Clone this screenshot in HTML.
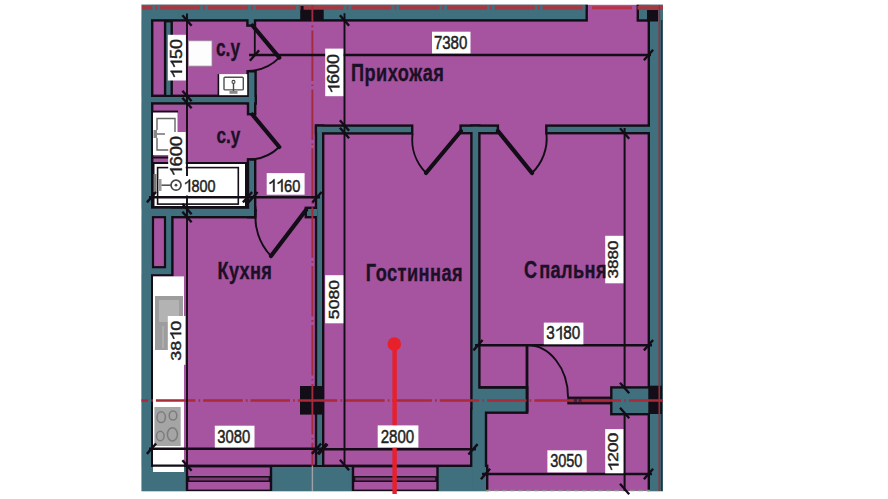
<!DOCTYPE html><html><head><meta charset="utf-8"><style>html,body{margin:0;padding:0;width:888px;height:499px;overflow:hidden;background:#fff}svg{display:block}</style></head><body><svg width="888" height="499" viewBox="0 0 888 499">
<defs><path id="one" d="M0.36 0 L0.455 0 L0.455 -0.716 L0.395 -0.716 C0.34 -0.63 0.23 -0.56 0.12 -0.525 L0.12 -0.44 C0.21 -0.47 0.30 -0.52 0.36 -0.575 Z"/></defs>
<rect x="0" y="0" width="888" height="499" fill="#ffffff" />
<rect x="141.5" y="4.5" width="521.5" height="486.5" fill="#a653a0" />
<rect x="141.5" y="4.5" width="444.0" height="14.7" fill="none" stroke="#120d16" stroke-width="4.8"/>
<rect x="639" y="4.5" width="24" height="14.8" fill="none" stroke="#120d16" stroke-width="4.8"/>
<rect x="141.5" y="4.5" width="9.5" height="486.5" fill="none" stroke="#120d16" stroke-width="4.8"/>
<rect x="650" y="4.5" width="13" height="486.5" fill="none" stroke="#120d16" stroke-width="4.8"/>
<rect x="141.5" y="467" width="344.5" height="24" fill="none" stroke="#120d16" stroke-width="4.8"/>
<rect x="166.3" y="22.4" width="4.2" height="72.5" fill="none" stroke="#120d16" stroke-width="4.8"/>
<rect x="141.5" y="97" width="112.9" height="5.2" fill="none" stroke="#120d16" stroke-width="4.8"/>
<rect x="248.6" y="19" width="5.2" height="5.4" fill="none" stroke="#120d16" stroke-width="4.8"/>
<rect x="248.8" y="72.5" width="5.6" height="29.7" fill="none" stroke="#120d16" stroke-width="4.8"/>
<rect x="249.2" y="102" width="4.8" height="11" fill="none" stroke="#120d16" stroke-width="4.8"/>
<rect x="249.2" y="160.5" width="4.8" height="55.5" fill="none" stroke="#120d16" stroke-width="4.8"/>
<rect x="141.5" y="208.8" width="112.5" height="7.2" fill="none" stroke="#120d16" stroke-width="4.8"/>
<rect x="141.5" y="208.8" width="29.7" height="65.4" fill="none" stroke="#120d16" stroke-width="4.8"/>
<rect x="307" y="209" width="10" height="7" fill="none" stroke="#120d16" stroke-width="4.8"/>
<rect x="317.2" y="126.8" width="4.8" height="338.2" fill="none" stroke="#120d16" stroke-width="4.8"/>
<rect x="317.2" y="126.8" width="93.8" height="5.4" fill="none" stroke="#120d16" stroke-width="4.8"/>
<rect x="461.8" y="126.8" width="34.9" height="5.2" fill="none" stroke="#120d16" stroke-width="4.8"/>
<rect x="472.6" y="126.8" width="5.6" height="364.2" fill="none" stroke="#120d16" stroke-width="4.8"/>
<rect x="472.6" y="410" width="12.2" height="81" fill="none" stroke="#120d16" stroke-width="4.8"/>
<rect x="547.5" y="126.8" width="102.5" height="5.2" fill="none" stroke="#120d16" stroke-width="4.8"/>
<rect x="477" y="388.6" width="49" height="22.9" fill="none" stroke="#120d16" stroke-width="4.8"/>
<rect x="612.5" y="388.6" width="37.5" height="24.4" fill="none" stroke="#120d16" stroke-width="4.8"/>
<rect x="141.5" y="4.5" width="444.0" height="14.7" fill="#406f7e" />
<rect x="639" y="4.5" width="24" height="14.8" fill="#406f7e" />
<rect x="141.5" y="4.5" width="9.5" height="486.5" fill="#406f7e" />
<rect x="650" y="4.5" width="13" height="486.5" fill="#406f7e" />
<rect x="141.5" y="467" width="344.5" height="24" fill="#406f7e" />
<rect x="166.3" y="22.4" width="4.2" height="72.5" fill="#406f7e" />
<rect x="141.5" y="97" width="112.9" height="5.2" fill="#406f7e" />
<rect x="248.6" y="19" width="5.2" height="5.4" fill="#406f7e" />
<rect x="248.8" y="72.5" width="5.6" height="29.7" fill="#406f7e" />
<rect x="249.2" y="102" width="4.8" height="11" fill="#406f7e" />
<rect x="249.2" y="160.5" width="4.8" height="55.5" fill="#406f7e" />
<rect x="141.5" y="208.8" width="112.5" height="7.2" fill="#406f7e" />
<rect x="141.5" y="208.8" width="29.7" height="65.4" fill="#406f7e" />
<rect x="307" y="209" width="10" height="7" fill="#406f7e" />
<rect x="317.2" y="126.8" width="4.8" height="338.2" fill="#406f7e" />
<rect x="317.2" y="126.8" width="93.8" height="5.4" fill="#406f7e" />
<rect x="461.8" y="126.8" width="34.9" height="5.2" fill="#406f7e" />
<rect x="472.6" y="126.8" width="5.6" height="364.2" fill="#406f7e" />
<rect x="472.6" y="410" width="12.2" height="81" fill="#406f7e" />
<rect x="547.5" y="126.8" width="102.5" height="5.2" fill="#406f7e" />
<rect x="477" y="388.6" width="49" height="22.9" fill="#406f7e" />
<rect x="612.5" y="388.6" width="37.5" height="24.4" fill="#406f7e" />
<rect x="153" y="217.2" width="12" height="50" fill="#a653a0" stroke="#120d16" stroke-width="2.2"/>
<rect x="187" y="466.2" width="84" height="24.6" fill="#a653a0" stroke="#120d16" stroke-width="2.4"/>
<rect x="188.5" y="476.8" width="81" height="4.4" fill="#7a3a74" stroke="#120d16" stroke-width="1.5"/>
<rect x="353" y="466.2" width="84.5" height="24.6" fill="#a653a0" stroke="#120d16" stroke-width="2.4"/>
<rect x="354.5" y="476.8" width="81.5" height="4.4" fill="#7a3a74" stroke="#120d16" stroke-width="1.5"/>
<rect x="0" y="0" width="141.5" height="499" fill="#fff" />
<rect x="663" y="0" width="225" height="499" fill="#fff" />
<rect x="0" y="0" width="888" height="4.6" fill="#fff" />
<rect x="0" y="491.2" width="888" height="7.8" fill="#fff" />
<line x1="661.6" y1="20" x2="661.6" y2="491" stroke="#263238" stroke-width="1.5" />
<rect x="300.2" y="6" width="23.5" height="15" fill="#120d16" />
<rect x="647" y="10" width="11" height="11.5" fill="#120d16" />
<rect x="300" y="386" width="23.8" height="28.6" fill="#120d16" />
<rect x="648.3" y="385.7" width="13.7" height="28.3" fill="#120d16" />
<rect x="188.3" y="40.8" width="23.7" height="25.3" fill="#fdfdfd" stroke="#9a8a9a" stroke-width="0.8"/>
<rect x="219" y="74.1" width="28.2" height="21.1" fill="#ffffff" />
<line x1="218.4" y1="74.1" x2="218.4" y2="96" stroke="#120d16" stroke-width="1.6" />
<rect x="224" y="77.3" width="19.3" height="12.6" rx="1" fill="none" stroke="#505050" stroke-width="1.4"/>
<circle cx="233.5" cy="81.9" r="1.5" fill="none" stroke="#444" stroke-width="1.1"/>
<line x1="233.5" y1="83.4" x2="233.5" y2="93" stroke="#444" stroke-width="1.4" />
<rect x="229.5" y="91" width="8.0" height="2.8" fill="#8a8a8a" />
<line x1="152" y1="111.6" x2="178" y2="111.6" stroke="#120d16" stroke-width="2" />
<rect x="153" y="112.6" width="24.5" height="42.4" fill="#ffffff" />
<path d="M157 130 V118.5 H175 V150 H157 V138" fill="none" stroke="#666" stroke-width="1.4"/>
<rect x="153.5" y="130" width="3.5" height="8" fill="#888" />
<line x1="157" y1="134" x2="165" y2="134" stroke="#666" stroke-width="1.4" />
<line x1="152" y1="157.5" x2="178" y2="157.5" stroke="#120d16" stroke-width="2" />
<rect x="153.5" y="163" width="92.5" height="44" fill="#ffffff" stroke="#120d16" stroke-width="2"/>
<rect x="157.6" y="167.6" width="80.7" height="36.5" fill="none" stroke="#120d16" stroke-width="1.6"/>
<rect x="153.5" y="174" width="3.0" height="18" fill="#7a7a7a" />
<rect x="159" y="179" width="2.5" height="12" fill="#9a9a9a" />
<line x1="161.5" y1="185.2" x2="170.8" y2="185.2" stroke="#555" stroke-width="1.6" />
<circle cx="176" cy="185.2" r="5" fill="none" stroke="#444" stroke-width="1.7"/>
<circle cx="176" cy="185.2" r="1.4" fill="#444"/>
<rect x="153" y="276.4" width="31" height="195.6" fill="#ffffff" />
<rect x="155" y="296" width="28" height="54" fill="#9d9d9d" />
<rect x="159" y="300" width="20" height="22" fill="#b3b3b3" />
<line x1="163" y1="326" x2="163" y2="348" stroke="#bdbdbd" stroke-width="1" />
<line x1="175" y1="326" x2="175" y2="348" stroke="#bdbdbd" stroke-width="1" />
<rect x="154.4" y="407" width="26.3" height="39" fill="#a5a5a5" />
<ellipse cx="161.2" cy="417.2" rx="4.2" ry="5.4" fill="none" stroke="#7c7c7c" stroke-width="1.5"/>
<ellipse cx="173" cy="415.5" rx="3.8" ry="4.6" fill="none" stroke="#7c7c7c" stroke-width="1.5"/>
<ellipse cx="160.3" cy="436" rx="3.8" ry="4.7" fill="none" stroke="#7c7c7c" stroke-width="1.5"/>
<ellipse cx="172.4" cy="434.4" rx="5" ry="6.6" fill="none" stroke="#7c7c7c" stroke-width="1.5"/>
<line x1="152" y1="275" x2="152" y2="466" stroke="#120d16" stroke-width="2" />
<line x1="151" y1="465.6" x2="186" y2="465.6" stroke="#120d16" stroke-width="2.2" />
<line x1="252.5" y1="25.5" x2="279.3" y2="57.6" stroke="#120d16" stroke-width="4.2" stroke-linecap="round"/>
<path d="M279.3 57.6 A45 45 0 0 1 248.5 71" fill="none" stroke="#120d16" stroke-width="1.9"/>
<line x1="254.8" y1="26" x2="254.8" y2="55" stroke="#120d16" stroke-width="1.8" />
<line x1="252.3" y1="114.5" x2="279.3" y2="147" stroke="#120d16" stroke-width="4.2" stroke-linecap="round"/>
<path d="M279.3 147 A45 45 0 0 1 250 159.6" fill="none" stroke="#120d16" stroke-width="1.9"/>
<line x1="306" y1="210" x2="271" y2="256" stroke="#120d16" stroke-width="4.2" stroke-linecap="round"/>
<path d="M256 209 A56 56 0 0 0 271 256" fill="none" stroke="#120d16" stroke-width="1.9"/>
<line x1="461" y1="131" x2="426" y2="173" stroke="#120d16" stroke-width="4.2" stroke-linecap="round"/>
<path d="M412.5 134 A48 48 0 0 0 426 173" fill="none" stroke="#120d16" stroke-width="1.9"/>
<line x1="498" y1="131" x2="532" y2="173" stroke="#120d16" stroke-width="4.2" stroke-linecap="round"/>
<path d="M546.5 134 A48 48 0 0 1 532 173" fill="none" stroke="#120d16" stroke-width="1.9"/>
<line x1="527" y1="344.5" x2="527" y2="412" stroke="#120d16" stroke-width="2.8" />
<line x1="479" y1="387.4" x2="527" y2="387.4" stroke="#120d16" stroke-width="2.2" />
<path d="M527 345 A41 52 0 0 1 568 397" fill="none" stroke="#120d16" stroke-width="1.9"/>
<rect x="568.3" y="397.6" width="42.5" height="5.8" fill="#4a1d3c" stroke="#120d16" stroke-width="2"/>
<line x1="142" y1="7.7" x2="586" y2="7.7" stroke="#a23a44" stroke-width="4" stroke-dasharray="40 3 1.8 3" stroke-dashoffset="29.6"/>
<line x1="637.5" y1="7.7" x2="663" y2="7.7" stroke="#a23a44" stroke-width="4"/>
<line x1="592" y1="7.8" x2="632" y2="7.8" stroke="#b53446" stroke-width="3"/>
<line x1="141.5" y1="400.4" x2="663" y2="400.4" stroke="#aa2a3a" stroke-width="2.5" stroke-dasharray="39.5 3.2 1.6 3" stroke-dashoffset="32.9"/>
<line x1="312.4" y1="5" x2="312.4" y2="466" stroke="#a42a3e" stroke-width="1.9" stroke-dasharray="50.5 3.5 1.6 3.3" stroke-dashoffset="33.4"/>
<line x1="312.4" y1="466" x2="312.4" y2="491" stroke="#a0a0a8" stroke-width="1.4" />
<line x1="659.3" y1="5" x2="659.3" y2="491" stroke="#93323f" stroke-width="1.7"/>
<line x1="486" y1="490.5" x2="650" y2="490.5" stroke="#8a8a8a" stroke-width="1.4" stroke-dasharray="5 3"/>
<line x1="249" y1="55" x2="651" y2="55" stroke="#120d16" stroke-width="2.4" />
<line x1="249.9" y1="60.7" x2="259.1" y2="50.3" stroke="#120d16" stroke-width="2.4" />
<line x1="643.9" y1="60.2" x2="653.1" y2="49.8" stroke="#120d16" stroke-width="2.4" />
<line x1="187" y1="13.5" x2="187" y2="176" stroke="#120d16" stroke-width="1.9" />
<line x1="187" y1="195.5" x2="187" y2="466" stroke="#120d16" stroke-width="1.9" />
<line x1="182.4" y1="15.3" x2="191.6" y2="25.7" stroke="#120d16" stroke-width="2.4" />
<line x1="182.4" y1="90.8" x2="191.6" y2="101.2" stroke="#120d16" stroke-width="2.4" />
<line x1="182.4" y1="97.8" x2="191.6" y2="108.2" stroke="#120d16" stroke-width="2.4" />
<line x1="182.4" y1="203.8" x2="191.6" y2="214.2" stroke="#120d16" stroke-width="2.4" />
<line x1="182.4" y1="211.8" x2="191.6" y2="222.2" stroke="#120d16" stroke-width="2.4" />
<line x1="182.4" y1="460.3" x2="191.6" y2="470.7" stroke="#120d16" stroke-width="2.4" />
<line x1="344.5" y1="13.3" x2="344.5" y2="466" stroke="#120d16" stroke-width="1.9" />
<line x1="339.9" y1="15.3" x2="349.1" y2="25.7" stroke="#120d16" stroke-width="2.4" />
<line x1="339.9" y1="120.3" x2="349.1" y2="130.7" stroke="#120d16" stroke-width="2.4" />
<line x1="339.9" y1="127.8" x2="349.1" y2="138.2" stroke="#120d16" stroke-width="2.4" />
<line x1="339.9" y1="459.8" x2="349.1" y2="470.2" stroke="#120d16" stroke-width="2.4" />
<line x1="149" y1="197.2" x2="320" y2="197.2" stroke="#120d16" stroke-width="2.4" />
<line x1="146.9" y1="202.39999999999998" x2="156.1" y2="192.0" stroke="#120d16" stroke-width="2.4" />
<line x1="242.9" y1="202.39999999999998" x2="252.1" y2="192.0" stroke="#120d16" stroke-width="2.4" />
<line x1="248.4" y1="202.39999999999998" x2="257.6" y2="192.0" stroke="#120d16" stroke-width="2.4" />
<line x1="312.4" y1="202.39999999999998" x2="321.6" y2="192.0" stroke="#120d16" stroke-width="2.4" />
<line x1="149" y1="448.7" x2="326" y2="448.7" stroke="#120d16" stroke-width="2.4" />
<line x1="146.9" y1="453.9" x2="156.1" y2="443.5" stroke="#120d16" stroke-width="2.4" />
<line x1="311.9" y1="453.9" x2="321.1" y2="443.5" stroke="#120d16" stroke-width="2.4" />
<line x1="317.4" y1="453.9" x2="326.6" y2="443.5" stroke="#120d16" stroke-width="2.4" />
<line x1="314" y1="449.3" x2="476" y2="449.3" stroke="#120d16" stroke-width="2.4" />
<line x1="318.4" y1="454.5" x2="327.6" y2="444.1" stroke="#120d16" stroke-width="2.4" />
<line x1="468.4" y1="454.5" x2="477.6" y2="444.1" stroke="#120d16" stroke-width="2.4" />
<line x1="624.6" y1="128" x2="624.6" y2="387" stroke="#120d16" stroke-width="2.0" />
<line x1="624.6" y1="414" x2="624.6" y2="491" stroke="#120d16" stroke-width="2.0" />
<line x1="620.0" y1="128.3" x2="629.2" y2="138.7" stroke="#120d16" stroke-width="2.4" />
<line x1="620.0" y1="382.8" x2="629.2" y2="393.2" stroke="#120d16" stroke-width="2.4" />
<line x1="620.0" y1="407.8" x2="629.2" y2="418.2" stroke="#120d16" stroke-width="2.4" />
<line x1="620.0" y1="483.8" x2="629.2" y2="494.2" stroke="#120d16" stroke-width="2.4" />
<line x1="475" y1="345.2" x2="652" y2="345.2" stroke="#120d16" stroke-width="2.4" />
<line x1="473.4" y1="350.4" x2="482.6" y2="340.0" stroke="#120d16" stroke-width="2.4" />
<line x1="643.9" y1="350.4" x2="653.1" y2="340.0" stroke="#120d16" stroke-width="2.4" />
<line x1="482" y1="474" x2="652" y2="474" stroke="#120d16" stroke-width="2.4" />
<line x1="480.9" y1="479.2" x2="490.1" y2="468.8" stroke="#120d16" stroke-width="2.4" />
<line x1="643.9" y1="479.2" x2="653.1" y2="468.8" stroke="#120d16" stroke-width="2.4" />
<line x1="394.6" y1="344" x2="394.6" y2="494" stroke="#e8202a" stroke-width="4.4" />
<circle cx="394.3" cy="344" r="6.8" fill="#e8202a"/>
<rect x="432" y="31.7" width="38.5" height="21.7" fill="#ffffff" />
<g transform="translate(433.88 48.86) scale(0.8167 1)"><text x="0.0" y="0" font-family="Liberation Sans" font-size="18.417266187050366" fill="#1e1e22" stroke="#1e1e22" stroke-width="0.5">7</text><text x="10.24" y="0" font-family="Liberation Sans" font-size="18.417266187050366" fill="#1e1e22" stroke="#1e1e22" stroke-width="0.5">3</text><text x="20.48" y="0" font-family="Liberation Sans" font-size="18.417266187050366" fill="#1e1e22" stroke="#1e1e22" stroke-width="0.5">8</text><text x="30.72" y="0" font-family="Liberation Sans" font-size="18.417266187050366" fill="#1e1e22" stroke="#1e1e22" stroke-width="0.5">0</text></g>
<rect x="266.7" y="173.1" width="37.9" height="21.6" fill="#ffffff" />
<g transform="translate(267.9 191.66) scale(0.8372 1)"><use href="#one" transform="translate(0.0 0) scale(17.410071942446038)" fill="#1e1e22" stroke="#1e1e22" stroke-width="0.0287"/><use href="#one" transform="translate(9.68 0) scale(17.410071942446038)" fill="#1e1e22" stroke="#1e1e22" stroke-width="0.0287"/><text x="19.36" y="0" font-family="Liberation Sans" font-size="17.410071942446038" fill="#1e1e22" stroke="#1e1e22" stroke-width="0.5">6</text><text x="29.04" y="0" font-family="Liberation Sans" font-size="17.410071942446038" fill="#1e1e22" stroke="#1e1e22" stroke-width="0.5">0</text></g>
<rect x="214.8" y="425.7" width="39.7" height="21.8" fill="#ffffff" />
<g transform="translate(217.29 442.96) scale(0.8235 1)"><text x="0.0" y="0" font-family="Liberation Sans" font-size="17.98561151079137" fill="#1e1e22" stroke="#1e1e22" stroke-width="0.5">3</text><text x="10.0" y="0" font-family="Liberation Sans" font-size="17.98561151079137" fill="#1e1e22" stroke="#1e1e22" stroke-width="0.5">0</text><text x="20.0" y="0" font-family="Liberation Sans" font-size="17.98561151079137" fill="#1e1e22" stroke="#1e1e22" stroke-width="0.5">8</text><text x="30.0" y="0" font-family="Liberation Sans" font-size="17.98561151079137" fill="#1e1e22" stroke="#1e1e22" stroke-width="0.5">0</text></g>
<rect x="377.7" y="425.4" width="40.7" height="22.1" fill="#ffffff" />
<g transform="translate(380.7 442.96) scale(0.8189 1)"><text x="0.0" y="0" font-family="Liberation Sans" font-size="18.417266187050377" fill="#1e1e22" stroke="#1e1e22" stroke-width="0.5">2</text><text x="10.24" y="0" font-family="Liberation Sans" font-size="18.417266187050377" fill="#1e1e22" stroke="#1e1e22" stroke-width="0.5">8</text><text x="20.48" y="0" font-family="Liberation Sans" font-size="18.417266187050377" fill="#1e1e22" stroke="#1e1e22" stroke-width="0.5">0</text><text x="30.72" y="0" font-family="Liberation Sans" font-size="18.417266187050377" fill="#1e1e22" stroke="#1e1e22" stroke-width="0.5">0</text></g>
<rect x="543.8" y="322.6" width="39.6" height="21.7" fill="#ffffff" />
<g transform="translate(546.27 339.46) scale(0.8231 1)"><text x="0.0" y="0" font-family="Liberation Sans" font-size="18.561151079136742" fill="#1e1e22" stroke="#1e1e22" stroke-width="0.5">3</text><use href="#one" transform="translate(10.32 0) scale(18.561151079136742)" fill="#1e1e22" stroke="#1e1e22" stroke-width="0.0269"/><text x="20.64" y="0" font-family="Liberation Sans" font-size="18.561151079136742" fill="#1e1e22" stroke="#1e1e22" stroke-width="0.5">8</text><text x="30.96" y="0" font-family="Liberation Sans" font-size="18.561151079136742" fill="#1e1e22" stroke="#1e1e22" stroke-width="0.5">0</text></g>
<rect x="547.4" y="450.3" width="39.3" height="22.1" fill="#ffffff" />
<g transform="translate(550.2 467.46) scale(0.7865 1)"><text x="0.0" y="0" font-family="Liberation Sans" font-size="18.417266187050377" fill="#1e1e22" stroke="#1e1e22" stroke-width="0.5">3</text><text x="10.24" y="0" font-family="Liberation Sans" font-size="18.417266187050377" fill="#1e1e22" stroke="#1e1e22" stroke-width="0.5">0</text><text x="20.48" y="0" font-family="Liberation Sans" font-size="18.417266187050377" fill="#1e1e22" stroke="#1e1e22" stroke-width="0.5">5</text><text x="30.72" y="0" font-family="Liberation Sans" font-size="18.417266187050377" fill="#1e1e22" stroke="#1e1e22" stroke-width="0.5">0</text></g>
<g transform="translate(183.52 191.86) scale(0.8261 1)"><use href="#one" transform="translate(0.0 0) scale(17.410071942446038)" fill="#1e1e22" stroke="#1e1e22" stroke-width="0.0287"/><text x="9.68" y="0" font-family="Liberation Sans" font-size="17.410071942446038" fill="#1e1e22" stroke="#1e1e22" stroke-width="0.5">8</text><text x="19.36" y="0" font-family="Liberation Sans" font-size="17.410071942446038" fill="#1e1e22" stroke="#1e1e22" stroke-width="0.5">0</text><text x="29.04" y="0" font-family="Liberation Sans" font-size="17.410071942446038" fill="#1e1e22" stroke="#1e1e22" stroke-width="0.5">0</text></g>
<rect x="167.8" y="34.8" width="18.1" height="45.7" fill="#ffffff" />
<g transform="translate(181.97 78.89) rotate(-90) scale(1 0.8857)"><use href="#one" transform="translate(0.0 0) scale(17.869249394673123)" fill="#1e1e22" stroke="#1e1e22" stroke-width="0.028"/><use href="#one" transform="translate(9.94 0) scale(17.869249394673123)" fill="#1e1e22" stroke="#1e1e22" stroke-width="0.028"/><text x="19.87" y="0" font-family="Liberation Sans" font-size="17.869249394673123" fill="#1e1e22" stroke="#1e1e22" stroke-width="0.5">5</text><text x="29.81" y="0" font-family="Liberation Sans" font-size="17.869249394673123" fill="#1e1e22" stroke="#1e1e22" stroke-width="0.5">0</text></g>
<rect x="325.2" y="48.6" width="18.1" height="47.6" fill="#ffffff" />
<g transform="translate(339.37 93.89) rotate(-90) scale(1 0.8857)"><use href="#one" transform="translate(0.0 0) scale(17.869249394673123)" fill="#1e1e22" stroke="#1e1e22" stroke-width="0.028"/><text x="9.94" y="0" font-family="Liberation Sans" font-size="17.869249394673123" fill="#1e1e22" stroke="#1e1e22" stroke-width="0.5">6</text><text x="19.87" y="0" font-family="Liberation Sans" font-size="17.869249394673123" fill="#1e1e22" stroke="#1e1e22" stroke-width="0.5">0</text><text x="29.81" y="0" font-family="Liberation Sans" font-size="17.869249394673123" fill="#1e1e22" stroke="#1e1e22" stroke-width="0.5">0</text></g>
<rect x="168.2" y="132" width="17.5" height="44" fill="#ffffff" />
<g transform="translate(181.87 176.75) rotate(-90) scale(1 0.9016)"><use href="#one" transform="translate(0.0 0) scale(18.35351089588378)" fill="#1e1e22" stroke="#1e1e22" stroke-width="0.0272"/><text x="10.2" y="0" font-family="Liberation Sans" font-size="18.35351089588378" fill="#1e1e22" stroke="#1e1e22" stroke-width="0.5">6</text><text x="20.41" y="0" font-family="Liberation Sans" font-size="18.35351089588378" fill="#1e1e22" stroke="#1e1e22" stroke-width="0.5">0</text><text x="30.61" y="0" font-family="Liberation Sans" font-size="18.35351089588378" fill="#1e1e22" stroke="#1e1e22" stroke-width="0.5">0</text></g>
<rect x="167.8" y="316" width="17.6" height="48.8" fill="#ffffff" />
<g transform="translate(181.17 360.73) rotate(-90) scale(1 0.8505)"><text x="0.0" y="0" font-family="Liberation Sans" font-size="17.931998136935256" fill="#1e1e22" stroke="#1e1e22" stroke-width="0.5">3</text><text x="9.97" y="0" font-family="Liberation Sans" font-size="17.931998136935256" fill="#1e1e22" stroke="#1e1e22" stroke-width="0.5">8</text><use href="#one" transform="translate(19.94 0) scale(17.931998136935256)" fill="#1e1e22" stroke="#1e1e22" stroke-width="0.0279"/><text x="29.91" y="0" font-family="Liberation Sans" font-size="17.931998136935256" fill="#1e1e22" stroke="#1e1e22" stroke-width="0.5">0</text></g>
<rect x="325.2" y="275.2" width="18.2" height="48.1" fill="#ffffff" />
<g transform="translate(339.17 319.15) rotate(-90) scale(1 0.8655)"><text x="0.0" y="0" font-family="Liberation Sans" font-size="17.622377622377627" fill="#1e1e22" stroke="#1e1e22" stroke-width="0.5">5</text><text x="9.8" y="0" font-family="Liberation Sans" font-size="17.622377622377627" fill="#1e1e22" stroke="#1e1e22" stroke-width="0.5">0</text><text x="19.6" y="0" font-family="Liberation Sans" font-size="17.622377622377627" fill="#1e1e22" stroke="#1e1e22" stroke-width="0.5">8</text><text x="29.39" y="0" font-family="Liberation Sans" font-size="17.622377622377627" fill="#1e1e22" stroke="#1e1e22" stroke-width="0.5">0</text></g>
<rect x="605.2" y="235.8" width="18.2" height="47.5" fill="#ffffff" />
<g transform="translate(618.48 278.5) rotate(-90) scale(1 0.8356)"><text x="0.0" y="0" font-family="Liberation Sans" font-size="17.04704238472288" fill="#1e1e22" stroke="#1e1e22" stroke-width="0.5">3</text><text x="9.48" y="0" font-family="Liberation Sans" font-size="17.04704238472288" fill="#1e1e22" stroke="#1e1e22" stroke-width="0.5">8</text><text x="18.96" y="0" font-family="Liberation Sans" font-size="17.04704238472288" fill="#1e1e22" stroke="#1e1e22" stroke-width="0.5">8</text><text x="28.43" y="0" font-family="Liberation Sans" font-size="17.04704238472288" fill="#1e1e22" stroke="#1e1e22" stroke-width="0.5">0</text></g>
<rect x="605.2" y="429.1" width="18.2" height="44.2" fill="#ffffff" />
<g transform="translate(618.48 471.87) rotate(-90) scale(1 0.8059)"><use href="#one" transform="translate(0.0 0) scale(17.675544794188863)" fill="#1e1e22" stroke="#1e1e22" stroke-width="0.0283"/><text x="9.83" y="0" font-family="Liberation Sans" font-size="17.675544794188863" fill="#1e1e22" stroke="#1e1e22" stroke-width="0.5">2</text><text x="19.66" y="0" font-family="Liberation Sans" font-size="17.675544794188863" fill="#1e1e22" stroke="#1e1e22" stroke-width="0.5">0</text><text x="29.48" y="0" font-family="Liberation Sans" font-size="17.675544794188863" fill="#1e1e22" stroke="#1e1e22" stroke-width="0.5">0</text></g>
<text x="0" y="0" transform="translate(351 80.6) scale(0.79 1)" font-family="Liberation Sans" font-weight="bold" font-size="23" letter-spacing="0.6" fill="#1b1026" stroke="#1b1026" stroke-width="0.35">Прихожая</text>
<text x="0" y="0" transform="translate(217.5 279.2) scale(0.79 1)" font-family="Liberation Sans" font-weight="bold" font-size="23" letter-spacing="0.4" fill="#1b1026" stroke="#1b1026" stroke-width="0.35">Кухня</text>
<text x="0" y="0" transform="translate(365.8 280.6) scale(0.79 1)" font-family="Liberation Sans" font-weight="bold" font-size="23" letter-spacing="0.6" fill="#1b1026" stroke="#1b1026" stroke-width="0.35">Гостинная</text>
<text x="0" y="0" transform="translate(524 278.4) scale(0.79 1)" font-family="Liberation Sans" font-weight="bold" font-size="23" letter-spacing="0" fill="#1b1026" stroke="#1b1026" stroke-width="0.35">С</text>
<text x="0" y="0" transform="translate(539.2 278.4) scale(0.79 1)" font-family="Liberation Sans" font-weight="bold" font-size="23" letter-spacing="0.5" fill="#1b1026" stroke="#1b1026" stroke-width="0.35">пальня</text>
<text x="0" y="0" transform="translate(216 56) scale(0.72 1)" font-family="Liberation Sans" font-weight="bold" font-size="24" letter-spacing="0" fill="#1b1026" stroke="#1b1026" stroke-width="0.35">с.у</text>
<text x="0" y="0" transform="translate(216.5 142.5) scale(0.78 1)" font-family="Liberation Sans" font-weight="bold" font-size="22" letter-spacing="0" fill="#1b1026" stroke="#1b1026" stroke-width="0.35">с.у</text>
</svg></body></html>
